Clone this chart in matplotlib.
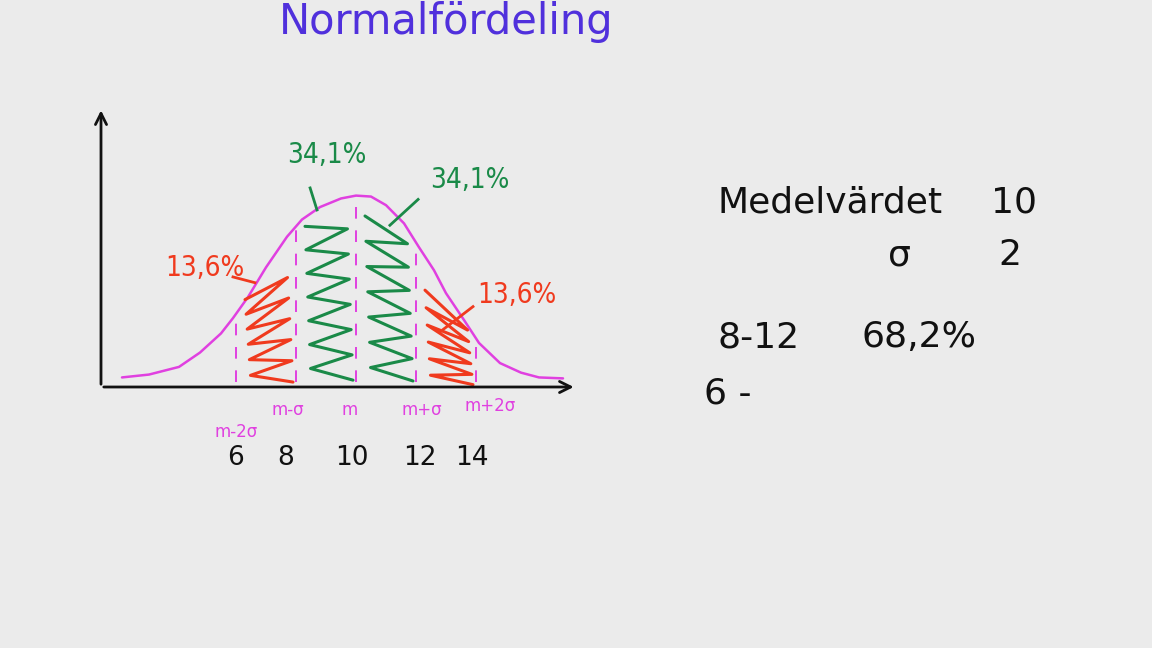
import numpy as np
import matplotlib.pyplot as plt

# curve (value, height)
curve_x = [2.2, 3.1, 4.1, 4.8, 5.5, 5.9, 6.4, 7.0, 7.7, 8.2, 8.8, 9.5, 10.0, 10.5, 11.0,
           11.6, 12.1, 12.6, 13.0, 13.6, 14.1, 14.8, 15.5, 16.1, 16.9]
curve_y = [0.010, 0.013, 0.021, 0.036, 0.056, 0.072, 0.094, 0.125, 0.157, 0.175, 0.188,
           0.197, 0.200, 0.199, 0.190, 0.171, 0.146, 0.122, 0.098, 0.070, 0.046, 0.025,
           0.015, 0.010, 0.009]

mean = 10
sigma = 2
tick_vals = [6, 8, 10, 12, 14]
tick_names = ['m-2σ', 'm-σ', 'm', 'm+σ', 'm+2σ']
bands = [(6, 8), (8, 10), (10, 12), (12, 14)]
band_pcts = ['13,6%', '34,1%', '34,1%', '13,6%']

BG = '#ebebeb'
PINK = '#e040e0'
GREEN = '#1a8a48'
RED = '#f03a1e'
BLUE = '#5030dc'
INK = '#111111'

plt.rcParams['font.family'] = ['DejaVu Sans']

fig = plt.figure(figsize=(11.52, 6.48), dpi=100, facecolor=BG)
ax = fig.add_axes([0, 0, 1, 1])
ax.set_facecolor(BG)
# pixel-like mapping: 30 px per unit on x, 957 px per unit on y
ax.set_xlim(10 - 356 / 30, 10 + (1152 - 356) / 30)
ax.set_ylim((387 - 648) / 957, 387 / 957)
ax.axis('off')


def px(x, y):
    return x / 1152, 1 - y / 648


# axes arrows
ax.annotate('', xy=(1.5, 0.292), xytext=(1.5, 0), annotation_clip=False,
            arrowprops=dict(arrowstyle='->,head_length=0.8,head_width=0.4', color=INK, lw=2))
ax.annotate('', xy=(17.35, 0), xytext=(1.5, 0),
            arrowprops=dict(arrowstyle='->,head_length=0.8,head_width=0.4', color=INK, lw=2))

# the bell curve
ax.plot(curve_x, curve_y, color=PINK, lw=1.8, solid_capstyle='round',
        solid_joinstyle='round')

# dashed markers up to the curve
for v in tick_vals:
    top = np.interp(v, curve_x, curve_y)
    ax.plot([v, v], [0.005, top], color=PINK, lw=1.4, dashes=(6, 6))

# scribble shading in each band
for (lo, hi), col in zip(bands, [RED, GREEN, GREEN, RED]):
    w = hi - lo
    left, right = lo + 0.15 * w, hi - 0.15 * w
    n = 14 if col == GREEN else 12
    xs = np.where(np.arange(n) % 2 == 0, left, right)
    xs = xs + np.linspace(0, 0.1 * w, n)
    frac = np.linspace(1, 0.04, n)
    mid_h = np.interp((lo + hi) / 2, curve_x, curve_y)
    cap = 0.5 * (np.interp(xs, curve_x, curve_y) + mid_h) - 0.016
    ys = frac * cap
    ax.plot(xs, ys, color=col, lw=2.2, solid_joinstyle='round', solid_capstyle='round')

# percentage labels with leader lines
pct_pos = [(4.97, 0.124), (9.03, 0.242), (13.8, 0.216), (15.37, 0.096)]
lead_from = [(5.9, 0.115), (8.47, 0.208), (12.07, 0.196), (13.9, 0.084)]
lead_to = [(6.63, 0.109), (8.7, 0.185), (11.13, 0.169), (12.9, 0.060)]
for lab, (tx, ty), a, b, col in zip(band_pcts, pct_pos, lead_from, lead_to,
                                    [RED, GREEN, GREEN, RED]):
    ax.text(tx, ty, lab, color=col, fontsize=20, ha='center', va='center',
            fontstretch='condensed')
    ax.plot([a[0], b[0]], [a[1], b[1]], color=col, lw=2)

# m-labels and numbers under the axis
name_pos = [(6.0, -0.047), (7.73, -0.024), (9.8, -0.024), (12.2, -0.024), (14.47, -0.020)]
for nm, (nx, ny) in zip(tick_names, name_pos):
    ax.text(nx, ny, nm, color=PINK, fontsize=12, ha='center', va='center')
num_x = [5.97, 7.67, 9.87, 12.13, 13.87]
for v, nx in zip(tick_vals, num_x):
    ax.text(nx, -0.074, str(v), color=INK, fontsize=19, ha='center', va='center')

# title
fig.text(*px(446, 22), 'Normalfördeling', color=BLUE, fontsize=30,
         ha='center', va='center')

# notes on the right
fig.text(*px(830, 203), 'Medelvärdet', color=INK, fontsize=26, ha='center', va='center')
fig.text(*px(1014, 203), str(mean), color=INK, fontsize=26, ha='center', va='center')
fig.text(*px(899, 256), 'σ', color=INK, fontsize=26, ha='center', va='center')
fig.text(*px(1010, 255), str(sigma), color=INK, fontsize=26, ha='center', va='center')
fig.text(*px(759, 337), '8-12', color=INK, fontsize=26, ha='center', va='center')
fig.text(*px(919, 337), '68,2%', color=INK, fontsize=26, ha='center', va='center')
fig.text(*px(728, 394), '6 -', color=INK, fontsize=26, ha='center', va='center')

fig.savefig('out.png', dpi=100, facecolor=BG)
